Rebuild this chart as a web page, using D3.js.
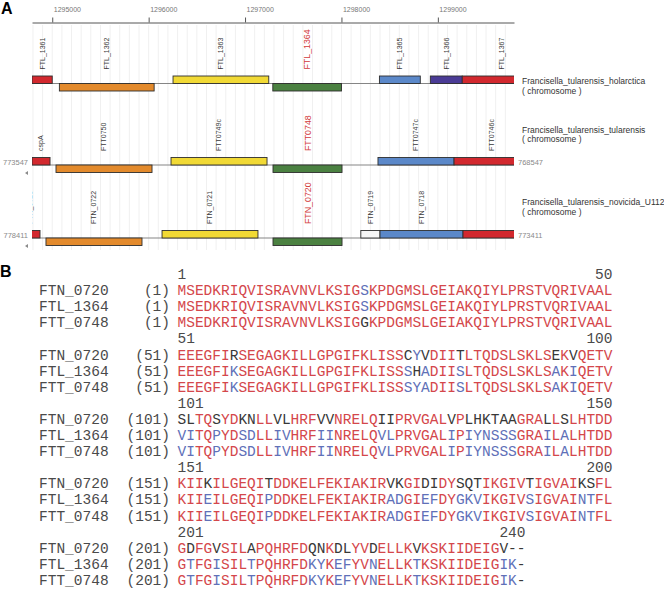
<!DOCTYPE html>
<html>
<head>
<meta charset="utf-8">
<script src="https://cdn.jsdelivr.net/npm/d3@7"></script>
<style>
body { margin: 0; background: #fff; }
</style>
</head>
<body>
<script>
// ---------- panel A : gene neighbourhood ----------
var trackNames = ["Francisella_tularensis_holarctica", "Francisella_tularensis_tularensis", "Francisella_tularensis_novicida_U112"];
var trackStart = [1294790, 773547, 778411];
var trackEnd   = [1299790, 768547, 773411];
var axisTicks  = [1295000, 1296000, 1297000, 1298000, 1299000];

var holarcticaGenes  = ["FTL_1361", "FTL_1362", "FTL_1363", "FTL_1364", "FTL_1365", "FTL_1366", "FTL_1367"];
var holarcticaFrom   = [1294790, 1295074, 1296253, 1297288, 1298394, 1298922, 1299253];
var holarcticaTo     = [1295000, 1296057, 1297246, 1298001, 1298818, 1299253, 1300060];
var holarcticaLane   = [1, -1, 1, -1, 1, 1, 1];
var holarcticaFamily = ["cspA", "orf2", "orf3", "target", "orf5", "hyp", "cspA2"];

var tularensisGenes  = ["cspA", "FTT0750", "FTT0749c", "FTT0748", "FTT0747c", "FTT0746c"];
var tularensisFrom   = [773547, 773298, 772105, 771047, 769958, 769169];
var tularensisTo     = [773360, 772302, 771109, 770331, 769169, 768381];
var tularensisLane   = [1, -1, 1, -1, 1, 1];
var tularensisFamily = ["cspA", "orf2", "orf3", "target", "orf5", "cspA2"];

var novicidaGenes  = ["FTN_0723", "FTN_0722", "FTN_0721", "FTN_0720", "FTN_0719", "FTN_0718", ""];
var novicidaFrom   = [778536, 778266, 777062, 775911, 775000, 774801, 773940];
var novicidaTo     = [778328, 777270, 776067, 775195, 774801, 773940, 773150];
var novicidaLane   = [1, -1, 1, -1, 1, 1, 1];
var novicidaFamily = ["cspA", "orf2", "orf3", "target", "small", "orf5", "cspA2"];

var highlighted = ["FTL_1364", "FTT0748", "FTN_0720"];

// ---------- panel B : alignment ----------
var seqNames = ["FTN_0720", "FTL_1364", "FTT_0748"];
var seqFTN = "MSEDKRIQVISRAVNVLKSIGSKPDGMSLGEIAKQIYLPRSTVQRIVAAL" +
             "EEEGFIRSEGAGKILLGPGIFKLISSCYVDIITLTQDSLSKLSEKVQETV" +
             "SLTQSYDKNLLVLHRFVVNRELQIIPRVGALVPLHKTAAGRALLSLHTDD" +
             "KIIKILGEQITDDKELFEKIAKIRVKGIDIDYSQTIKGIVTIGVAIKSFL" +
             "GDFGVSILAPQHRFDQNKDLYVDELLKVKSKIIDEIGV--";
var seqFTL = "MSEDKRIQVISRAVNVLKSIGSKPDGMSLGEIAKQIYLPRSTVQRIVAAL" +
             "EEEGFIKSEGAGKILLGPGIFKLISSSHADIISLTQDSLSKLSAKIQETV" +
             "VITQPYDSDLLIVHRFIINRELQVLPRVGALIPIYNSSSGRAILALHTDD" +
             "KIIEILGEQIPDDKELFEKIAKIRADGIEFDYGKVIKGIVSIGVAINTFL" +
             "GTFGISILTPQHRFDKYKEFYVNELLKTKSKIIDEIGIK-";
var seqFTT = "MSEDKRIQVISRAVNVLKSIGGKPDGMSLGEIAKQIYLPRSTVQRIVAAL" +
             "EEEGFIKSEGAGKILLGPGIFKLISSSYADIISLTQDSLSKLSAKIQETV" +
             "VITQPYDSDLLIVHRFIINRELQVLPRVGALIPIYNSSSGRAILALHTDD" +
             "KIIEILGEQIPDDKELFEKIAKIRADGIEFDYGKVIKGIVSIGVAINTFL" +
             "GTFGISILTPQHRFDKYKEFYVNELLKTKSKIIDEIGIK-";
var rulerStart = [1, 51, 101, 151, 201];
var rulerEnd   = [50, 100, 150, 200, 240];

// ---------- drawing ----------
var svg = d3.select("body").append("svg")
    .attr("width", 664)
    .attr("height", 589)
    .style("font-family", "'Liberation Sans', Arial, sans-serif");

var x = d3.scaleLinear().domain([0, 5000]).range([32, 514]);
var xAxisScale = d3.scaleLinear().domain([trackStart[0], trackEnd[0]]).range([32, 514]);
var familyColor = d3.scaleOrdinal()
    .domain(["cspA", "orf2", "orf3", "target", "orf5", "hyp", "cspA2", "small"])
    .range(["#d2282e", "#e38a2c", "#f1d935", "#4b8141", "#5b88c9", "#4a3b95", "#d2282e", "#f6f6f6"]);

var trackY = [83.5, 165, 238];
var nameY = [84, 132.5, 205];

svg.append("text").attr("x", 1).attr("y", 14)
    .style("font-weight", "bold").style("font-size", "16px").text("A");
svg.append("text").attr("x", 0).attr("y", 277)
    .style("font-weight", "bold").style("font-size", "16px").text("B");

svg.append("clipPath").attr("id", "mapclip")
  .append("rect").attr("x", 32).attr("y", 0).attr("width", 482).attr("height", 260);

// faint grid every 100 bp
svg.append("g").selectAll("line")
    .data(d3.range(1294800, trackEnd[0], 100))
    .enter().append("line")
    .attr("x1", function(d) { return xAxisScale(d); })
    .attr("x2", function(d) { return xAxisScale(d); })
    .attr("y1", 25).attr("y2", 250)
    .attr("stroke", "#f0f0f0").attr("stroke-width", 1);

var axis = svg.append("g")
    .attr("transform", "translate(0,22.5)")
    .call(d3.axisTop(xAxisScale).tickValues(axisTicks).tickSize(5).tickSizeOuter(0).tickPadding(6)
          .tickFormat(function(d) { return d; }));
axis.select(".domain").attr("stroke", "#555");
axis.selectAll(".tick line").attr("stroke", "#555");
axis.selectAll(".tick text")
    .attr("text-anchor", "start").attr("dx", 1)
    .style("font-size", "7px").style("font-family", "'Liberation Sans', Arial, sans-serif")
    .attr("fill", "#777");

var geneTracks = [
  {names: holarcticaGenes, from: holarcticaFrom, to: holarcticaTo, lane: holarcticaLane, fam: holarcticaFamily},
  {names: tularensisGenes, from: tularensisFrom, to: tularensisTo, lane: tularensisLane, fam: tularensisFamily},
  {names: novicidaGenes, from: novicidaFrom, to: novicidaTo, lane: novicidaLane, fam: novicidaFamily}
];

geneTracks.forEach(function(t, i) {
  var dir = trackEnd[i] > trackStart[i] ? 1 : -1;
  var px = function(p) { return x((p - trackStart[i]) * dir); };
  var genes = t.names.map(function(n, j) {
    return {name: n, a: px(t.from[j]), b: px(t.to[j]), lane: t.lane[j], fam: t.fam[j]};
  });
  var g = svg.append("g").attr("transform", "translate(0," + trackY[i] + ")");

  g.append("line")
      .attr("x1", x(0)).attr("x2", x(5000))
      .attr("stroke", "#858585").attr("stroke-width", 1);

  g.append("g").attr("clip-path", "url(#mapclip)")
    .attr("transform", "translate(0," + (-trackY[i]) + ")")
    .selectAll("rect").data(genes).enter().append("rect")
      .attr("x", function(d) { return Math.min(d.a, d.b); })
      .attr("width", function(d) { return Math.abs(d.b - d.a); })
      .attr("y", function(d) { return trackY[i] + (d.lane > 0 ? -7.5 : 0); })
      .attr("height", 7.5)
      .attr("fill", function(d) { return familyColor(d.fam); })
      .attr("stroke", "#2e2e2e").attr("stroke-width", 0.9);

  g.append("g").attr("clip-path", "url(#mapclip)")
    .attr("transform", "translate(0," + (-trackY[i]) + ")")
    .selectAll("text").data(genes.filter(function(d) { return d.name; })).enter().append("text")
      .attr("transform", function(d) { return "translate(" + ((d.a + d.b) / 2) + "," + (trackY[i] - 14) + ") rotate(-90)"; })
      .attr("dy", "0.35em")
      .style("font-size", function(d) { return highlighted.indexOf(d.name) >= 0 ? "8.8px" : "7px"; })
      .attr("fill", function(d) { return highlighted.indexOf(d.name) >= 0 ? "#d23a3a" : "#3a3a3a"; })
      .text(function(d) { return d.name; });

  var lbl = svg.append("text").attr("x", 522).attr("y", nameY[i])
      .style("font-size", "8.5px").attr("fill", "#333");
  lbl.append("tspan").attr("x", 522).text(trackNames[i]);
  lbl.append("tspan").attr("x", 522).attr("dy", 9.5).text("( chromosome )");

  if (i > 0) {
    g.append("text").attr("x", 28).attr("y", -0.5).attr("text-anchor", "end")
      .style("font-size", "7.5px").attr("fill", "#8a8a8a").text(trackStart[i]);
    g.append("text").attr("x", 518).attr("y", -0.5)
      .style("font-size", "7.5px").attr("fill", "#8a8a8a").text(trackEnd[i]);
    g.append("path").attr("d", "M25,8 L28,6 L28,10 Z").attr("fill", "#8a8a8a");
  }
});

// ---------- alignment ----------
var seqs = [seqFTN, seqFTL, seqFTT];
var colX = d3.scaleLinear().domain([0, 50]).range([177.5, 177.5 + 50 * 8.7]);
var rowY = d3.scaleLinear().domain([0, 19]).range([279, 279 + 19 * 16.1]);
var residueColor = {same: "#d4474b", major: "#6070b8", diff: "#383838"};

var mono = "'Liberation Mono', 'Courier New', monospace";
var aln = svg.append("g").style("font-family", mono).style("font-size", "14.5px");

rulerStart.forEach(function(s, b) {
  var k = b * 4;
  var len = rulerEnd[b] - s + 1;
  aln.append("text").attr("x", colX(0)).attr("y", rowY(k)).attr("fill", "#4a4a4a").text(s);
  aln.append("text").attr("x", colX(len)).attr("y", rowY(k)).attr("text-anchor", "end").attr("fill", "#4a4a4a").text(rulerEnd[b]);

  seqNames.forEach(function(n, r) {
    var yy = rowY(k + 1 + r);
    aln.append("text").attr("x", 39).attr("y", yy).attr("fill", "#4a4a4a").text(n);
    aln.append("text").attr("x", 170).attr("y", yy).attr("text-anchor", "end").attr("fill", "#4a4a4a").text("(" + s + ")");
    var chars = seqs[r].slice(s - 1, s - 1 + 50).split("").map(function(c, i) {
      var col = seqs.map(function(q) { return q[s - 1 + i]; });
      var cnt = col.filter(function(v) { return v === c; }).length;
      var kind = (c === "-") ? "diff" : cnt === 3 ? "same" : cnt === 2 ? "major" : "diff";
      return {c: c, i: i, kind: kind};
    });
    aln.append("g").selectAll("text").data(chars).enter().append("text")
      .attr("x", function(d) { return colX(d.i); })
      .attr("y", yy)
      .attr("fill", function(d) { return residueColor[d.kind]; })
      .text(function(d) { return d.c; });
  });
});
</script>
</body>
</html>
